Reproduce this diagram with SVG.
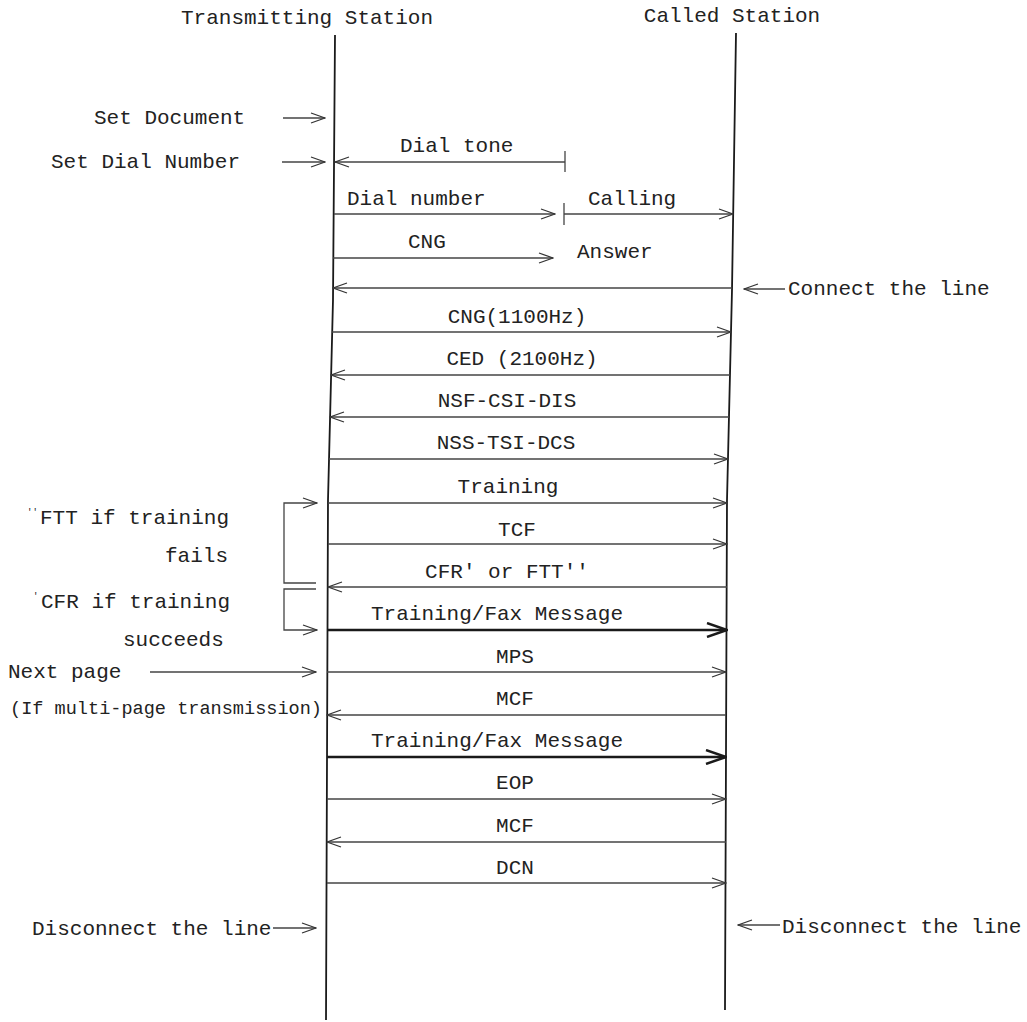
<svg xmlns="http://www.w3.org/2000/svg" width="1027" height="1022" viewBox="0 0 1027 1022">
<defs>
<style>
text{font-family:"Liberation Mono","DejaVu Sans Mono",monospace;font-size:21px;fill:#222}
.life{fill:none;stroke:#1a1a1a;stroke-width:1.8}
.msg{stroke:#444;stroke-width:1.3;fill:none}
.thick{stroke:#1a1a1a;stroke-width:2.6;fill:none}
.m{text-anchor:middle}
.small{font-size:18.5px}
.mark{font-size:9px}
</style>
<marker id="ah" viewBox="0 0 16 12" refX="15" refY="6" markerWidth="16" markerHeight="12" markerUnits="userSpaceOnUse" orient="auto">
<path d="M1,1 L15,6 L1,11" fill="none" stroke="#333" stroke-width="1.3"/>
</marker>
<marker id="ahb" viewBox="0 0 22 16" refX="21" refY="8" markerWidth="22" markerHeight="16" markerUnits="userSpaceOnUse" orient="auto">
<path d="M1,1 L21,8 L1,15" fill="none" stroke="#1a1a1a" stroke-width="2.4"/>
</marker>
</defs>
<rect width="1027" height="1022" fill="#fff"/>

<g id="transmitting-station">
<text x="307" y="24" class="m">Transmitting Station</text>
<polyline class="life" points="335,35 333,300 328,500 326,1020"/>
</g>
<g id="called-station">
<text x="732" y="22" class="m">Called Station</text>
<polyline class="life" points="736,33 732,290 727,500 725,1010"/>
</g>

<g id="side-labels">
<text x="94" y="124">Set Document</text>
<text x="51" y="168">Set Dial Number</text>
<text x="788" y="295">Connect the line</text>
<text x="27" y="515" class="mark">''</text>
<text x="40" y="524">FTT if training</text>
<text x="165" y="562">fails</text>
<text x="33" y="599" class="mark">'</text>
<text x="41" y="608">CFR if training</text>
<text x="123" y="646">succeeds</text>
<text x="8" y="678">Next page</text>
<text x="10" y="714" class="small" textLength="312" lengthAdjust="spacingAndGlyphs">(If multi-page transmission)</text>
<text x="32" y="935">Disconnect the line</text>
<text x="782" y="933">Disconnect the line</text>
</g>

<g id="message-labels">
<text x="400" y="152">Dial tone</text>
<text x="347" y="205">Dial number</text>
<text x="588" y="205">Calling</text>
<text x="408" y="248">CNG</text>
<text x="577" y="258">Answer</text>
<text x="517" y="323" class="m">CNG(1100Hz)</text>
<text x="522" y="365" class="m">CED (2100Hz)</text>
<text x="507" y="407" class="m">NSF-CSI-DIS</text>
<text x="506" y="449" class="m">NSS-TSI-DCS</text>
<text x="508" y="493" class="m">Training</text>
<text x="517" y="536" class="m">TCF</text>
<text x="507" y="578" class="m">CFR' or FTT''</text>
<text x="497" y="620" class="m">Training/Fax Message</text>
<text x="515" y="663" class="m">MPS</text>
<text x="515" y="705" class="m">MCF</text>
<text x="497" y="747" class="m">Training/Fax Message</text>
<text x="515" y="789" class="m">EOP</text>
<text x="515" y="832" class="m">MCF</text>
<text x="515" y="874" class="m">DCN</text>
</g>

<g id="connectors">
<line class="msg" x1="283" y1="118" x2="325" y2="118" marker-end="url(#ah)"/>
<line class="msg" x1="282" y1="162" x2="325" y2="162" marker-end="url(#ah)"/>
<line class="msg" x1="785" y1="289" x2="744" y2="289" marker-end="url(#ah)"/>
<line class="msg" x1="273" y1="928" x2="316" y2="928" marker-end="url(#ah)"/>
<line class="msg" x1="780" y1="925" x2="738" y2="925" marker-end="url(#ah)"/>
<line class="msg" x1="150" y1="672" x2="316" y2="672" marker-end="url(#ah)"/>
<polyline class="msg" points="316,583 284,583 284,503 317,503" marker-end="url(#ah)"/>
<polyline class="msg" points="316,589 284,589 284,630 317,630" marker-end="url(#ah)"/>
<line class="msg" x1="565" y1="162" x2="335" y2="162" marker-end="url(#ah)"/>
<line class="msg" x1="565" y1="151" x2="565" y2="172"/>
<line class="msg" x1="334" y1="214" x2="555" y2="214" marker-end="url(#ah)"/>
<line class="msg" x1="564" y1="203" x2="564" y2="225"/>
<line class="msg" x1="564" y1="214" x2="733" y2="214" marker-end="url(#ah)"/>
<line class="msg" x1="333" y1="258" x2="553" y2="258" marker-end="url(#ah)"/>
<line class="msg" x1="732" y1="288" x2="333" y2="288" marker-end="url(#ah)"/>
<line class="msg" x1="332" y1="332" x2="731" y2="332" marker-end="url(#ah)"/>
<line class="msg" x1="730" y1="375" x2="331" y2="375" marker-end="url(#ah)"/>
<line class="msg" x1="729" y1="417" x2="330" y2="417" marker-end="url(#ah)"/>
<line class="msg" x1="329" y1="459" x2="728" y2="459" marker-end="url(#ah)"/>
<line class="msg" x1="328" y1="503" x2="727" y2="503" marker-end="url(#ah)"/>
<line class="msg" x1="328" y1="544" x2="727" y2="544" marker-end="url(#ah)"/>
<line class="msg" x1="727" y1="587" x2="328" y2="587" marker-end="url(#ah)"/>
<line class="thick" x1="327" y1="630" x2="727" y2="630" marker-end="url(#ahb)"/>
<line class="msg" x1="327" y1="672" x2="726" y2="672" marker-end="url(#ah)"/>
<line class="msg" x1="726" y1="715" x2="327" y2="715" marker-end="url(#ah)"/>
<line class="thick" x1="327" y1="757" x2="726" y2="757" marker-end="url(#ahb)"/>
<line class="msg" x1="327" y1="799" x2="726" y2="799" marker-end="url(#ah)"/>
<line class="msg" x1="726" y1="842" x2="327" y2="842" marker-end="url(#ah)"/>
<line class="msg" x1="327" y1="883" x2="726" y2="883" marker-end="url(#ah)"/>
</g>
</svg>
